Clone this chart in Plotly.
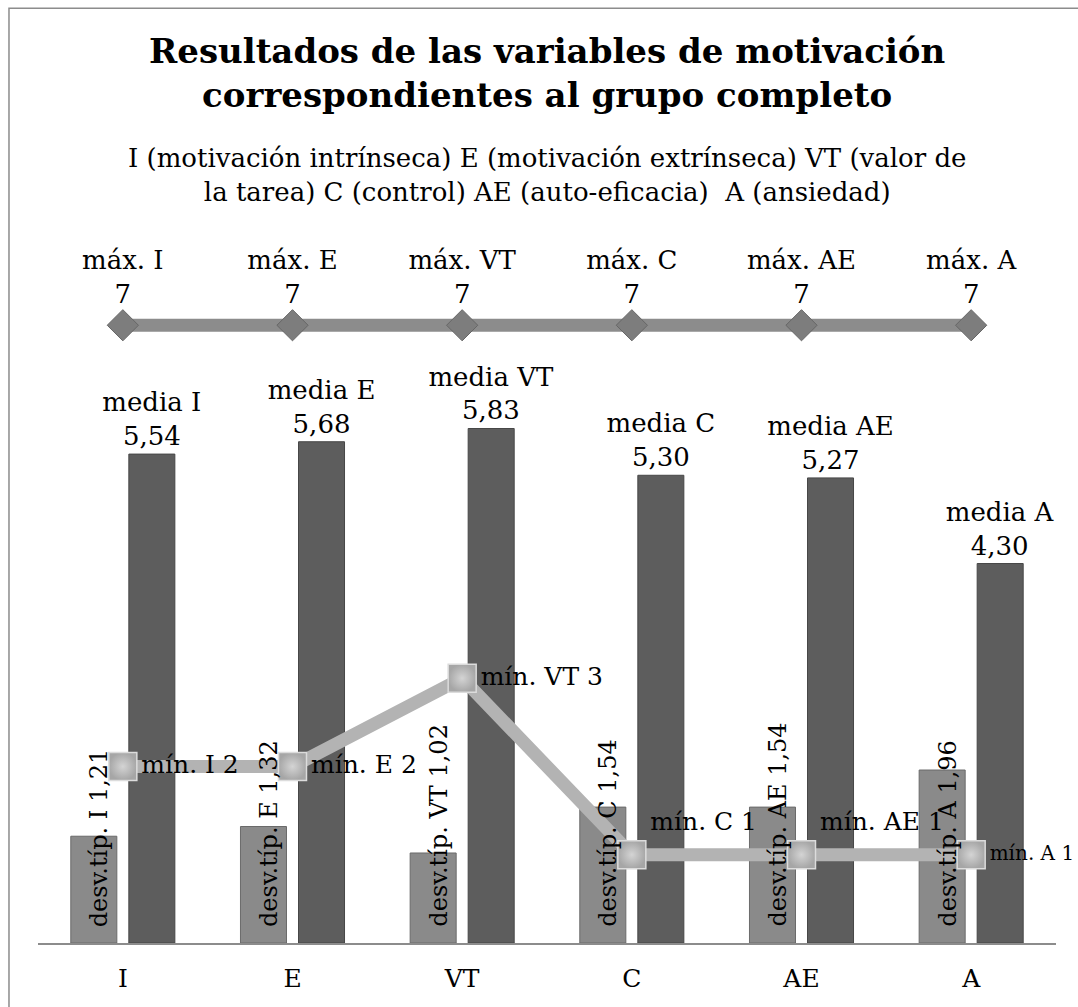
import plotly.graph_objects as go

# ── 資料 ──────────────────────────────────────────────
categorias = ["I", "E", "VT", "C", "AE", "A"]
media = [5.54, 5.68, 5.83, 5.30, 5.27, 4.30]
desv_tip = [1.21, 1.32, 1.02, 1.54, 1.54, 1.96]
minimo = [2, 2, 3, 1, 1, 1]
maximo = [7, 7, 7, 7, 7, 7]

FONT = "DejaVu Serif"


def coma(v, nd=2):
    return f"{v:.{nd}f}".replace(".", ",")


fig = go.Figure()

# ── desv.típ. bars ────────────────────────────────────
fig.add_trace(go.Bar(
    x=categorias, y=desv_tip,
    name="desv.típ.",
    marker=dict(color="#8a8a8a", line=dict(color="#6a6a6a", width=1)),
    cliponaxis=False,
))

# ── media bars ────────────────────────────────────────
fig.add_trace(go.Bar(
    x=categorias, y=media,
    name="media",
    marker=dict(color="#5d5d5d", line=dict(color="#474747", width=1)),
    text=[f"media {c}<br>{coma(v)}" for c, v in zip(categorias, media)],
    textposition="outside",
    textangle=0,
    constraintext="none",
    textfont=dict(family=FONT, size=26, color="#000000"),
    cliponaxis=False,
))

# ── máx. line ─────────────────────────────────────────
fig.add_trace(go.Scatter(
    x=categorias, y=maximo,
    mode="lines+markers+text",
    name="máx.",
    line=dict(color="#8c8c8c", width=13),
    marker=dict(symbol="diamond", size=24, color="#7d7d7d",
                line=dict(color="#666666", width=1)),
    text=[f"máx. {c}<br>{v}" for c, v in zip(categorias, maximo)],
    textposition="top center",
    textfont=dict(family=FONT, size=26, color="#000000"),
    cliponaxis=False,
))

# ── mín. line ─────────────────────────────────────────
min_pos = ["middle right", "middle right", "middle right",
           "top right", "top right", "middle right"]
min_size = [25, 25, 25, 25, 25, 20]
fig.add_trace(go.Scatter(
    x=categorias, y=minimo,
    mode="lines+markers+text",
    name="mín.",
    line=dict(color="#b3b3b3", width=13),
    marker=dict(symbol="square", size=28, color="#a6a6a6",
                gradient=dict(type="radial", color="#d4d4d4"),
                line=dict(color="#dcdcdc", width=1.5)),
    text=[f"mín. {c} {v}" for c, v in zip(categorias, minimo)],
    textposition=min_pos,
    textfont=dict(family=FONT, size=min_size, color="#000000"),
    cliponaxis=False,
))

# ── desv.típ. rotated labels (start near bar base) ────
for c, v in zip(categorias, desv_tip):
    fig.add_annotation(
        x=c, y=0, xref="x", yref="y",
        text=f"desv.típ. {c} {coma(v)}",
        textangle=-90, showarrow=False,
        xanchor="center", yanchor="bottom",
        xshift=-24, yshift=14,
        font=dict(family=FONT, size=24, color="#000000"),
    )

# ── 佈局 ──────────────────────────────────────────────
fig.update_layout(
    width=1078, height=1007,
    margin=dict(l=38, r=22, t=237, b=64, autoexpand=False),
    paper_bgcolor="white",
    plot_bgcolor="white",
    barmode="group",
    bargap=0.316,
    bargroupgap=0.207,
    showlegend=False,
    xaxis=dict(
        showline=True, linecolor="#8c8c8c", linewidth=2,
        showgrid=False, zeroline=False,
        ticks="outside", ticklen=12, tickcolor="rgba(0,0,0,0)",
        tickfont=dict(family=FONT, size=25, color="#000000"),
    ),
    yaxis=dict(
        range=[0, 8], visible=False, showgrid=False, zeroline=False,
    ),
    font=dict(family=FONT),
)

# title
fig.add_annotation(
    text="<b>Resultados de las variables de motivación<br>"
         "correspondientes al grupo completo</b>",
    xref="paper", yref="paper", x=0.5, y=1.233,
    xanchor="center", yanchor="middle", showarrow=False,
    font=dict(family=FONT, size=34, color="#000000"),
)

# subtitle
fig.add_annotation(
    text="I (motivación intrínseca) E (motivación extrínseca) VT (valor de<br>"
         "la tarea) C (control) AE (auto-eficacia)  A (ansiedad)",
    xref="paper", yref="paper", x=0.5, y=1.0885,
    xanchor="center", yanchor="middle", showarrow=False,
    font=dict(family=FONT, size=26, color="#000000"),
)

# outer chart frame
fig.add_shape(
    type="rect", xref="paper", yref="paper",
    x0=-0.0285, x1=1.06, y0=-0.12, y1=1.324,
    line=dict(color="#8c8c8c", width=1.5), fillcolor="rgba(0,0,0,0)",
    layer="below",
)

fig.write_html(
    "out.html",
    config={"displayModeBar": False},
    post_script="document.body.style.margin='0';",
)
